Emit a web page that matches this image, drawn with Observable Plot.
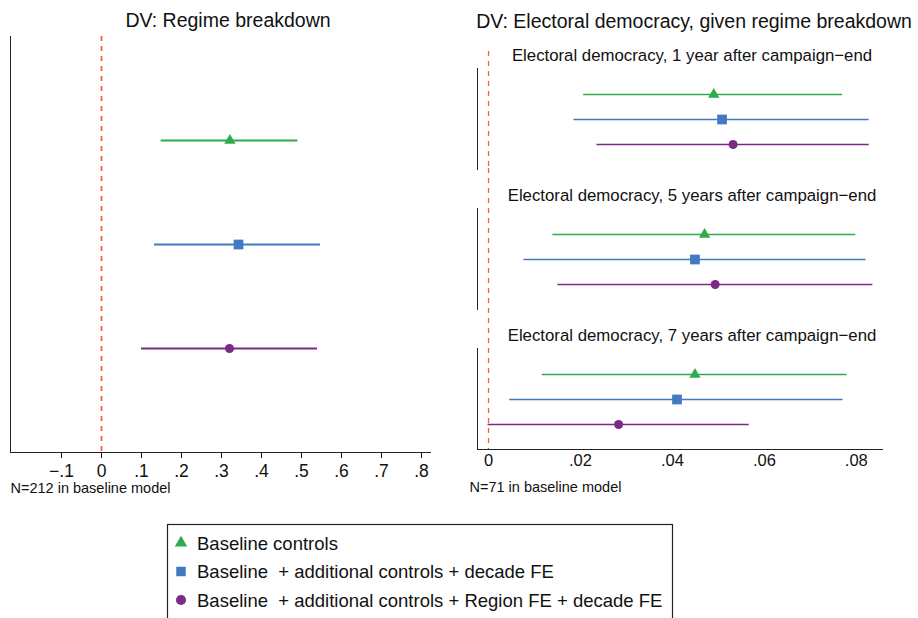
<!DOCTYPE html>
<html><head><meta charset="utf-8">
<script src="https://cdn.jsdelivr.net/npm/d3@7"></script>
<script src="https://cdn.jsdelivr.net/npm/@observablehq/plot@0.6"></script>
<style>
html,body{margin:0;padding:0;background:#fff;}
#root{position:relative;width:918px;height:618px;overflow:hidden;font-family:"Liberation Sans",Arial,Helvetica,sans-serif;}
#left{position:absolute;left:0;top:0;}
#right{position:absolute;left:460px;top:0;}
#legend{position:absolute;left:167px;top:524px;}
svg{overflow:visible;}
</style></head><body>
<div id="root"><div id="left"></div><div id="right"></div><div id="legend"></div></div>
<script>
// ---- data ----
const models = [
  "Baseline controls",
  "Baseline  + additional controls + decade FE",
  "Baseline  + additional controls + Region FE + decade FE"
];
const panelTitles = ["DV: Regime breakdown", "DV: Electoral democracy, given regime breakdown"];
const notes = ["N=212 in baseline model", "N=71 in baseline model"];
const subTitles = [
  "Electoral democracy, 1 year after campaign\u2212end",
  "Electoral democracy, 5 years after campaign\u2212end",
  "Electoral democracy, 7 years after campaign\u2212end"
];

const breakdownEst = [0.321, 0.3425, 0.320];
const breakdownLo  = [0.149, 0.1325, 0.100];
const breakdownHi  = [0.491, 0.5475, 0.540];

const demo1yEst = [0.0490, 0.0508, 0.0532];
const demo1yLo  = [0.0207, 0.0186, 0.0236];
const demo1yHi  = [0.0770, 0.0828, 0.0828];

const demo5yEst = [0.0470, 0.0449, 0.0493];
const demo5yLo  = [0.0140, 0.0077, 0.0151];
const demo5yHi  = [0.0799, 0.0821, 0.0836];

const demo7yEst = [0.0449, 0.0410, 0.0283];
const demo7yLo  = [0.0117, 0.0046, -0.0001];
const demo7yHi  = [0.0780, 0.0771, 0.0567];

const leftTicks = [-0.1, 0, 0.1, 0.2, 0.3, 0.4, 0.5, 0.6, 0.7, 0.8];
const leftTickLabels = ["\u2212.1", "0", ".1", ".2", ".3", ".4", ".5", ".6", ".7", ".8"];
const rightTicks = [0, 0.02, 0.04, 0.06, 0.08];
const rightTickLabels = ["0", ".02", ".04", ".06", ".08"];

// ---- styles ----
const colors = ["#2eab4c", "#4479c1", "#7b2a86"];
const symbols = ["triangle", "square", "circle"];
const symbolR = [4.2, 5.5, 4.5];
const refColor = "#f2613f";
const font = "Liberation Sans, Arial, Helvetica, sans-serif";
const ink = "#111";

// ---- tables ----
const leftData = models.map((m, i) => ({model: m, est: breakdownEst[i], lo: breakdownLo[i], hi: breakdownHi[i]}));
const rightData = [];
[[demo1yEst, demo1yLo, demo1yHi], [demo5yEst, demo5yLo, demo5yHi], [demo7yEst, demo7yLo, demo7yHi]]
  .forEach(([e, l, h], k) => models.forEach((m, i) =>
    rightData.push({sub: subTitles[k], model: m, est: e[i], lo: l[i], hi: h[i]})));

function modelMarks(data, extra, sw) {
  return [
    Plot.ruleY(data, {y: "model", x1: "lo", x2: "hi", stroke: "model", strokeWidth: sw, ...extra}),
    ...models.map((m, i) => Plot.dot(data, {
      filter: d => d.model === m, x: "est", y: "model",
      symbol: symbols[i], fill: colors[i], stroke: "none", r: symbolR[i], ...extra
    }))
  ];
}

const left = Plot.plot({
  width: 440, height: 500,
  marginLeft: 10, marginRight: 10, marginTop: 36, marginBottom: 48,
  style: {fontFamily: font, fontSize: "16.5px", color: ink, background: "transparent", overflow: "visible"},
  x: {domain: [-0.2275, 0.8225], label: null},
  y: {type: "point", domain: models, padding: 1, axis: null},
  color: {domain: models, range: colors},
  marks: [
    Plot.frame({anchor: "left", stroke: "#222"}),
    Plot.frame({anchor: "bottom", stroke: "#222"}),
    Plot.axisX({ticks: leftTicks, tickFormat: d => leftTickLabels[leftTicks.indexOf(d)],
      tickSize: 6, tickPadding: 6, fontSize: 17.5, fill: ink, label: null}),
    Plot.ruleX([0], {stroke: refColor, strokeWidth: 1.8, strokeDasharray: "5,5"}),
    ...modelMarks(leftData, {}, 2),
    Plot.text([panelTitles[0]], {text: d => d, frameAnchor: "top", lineAnchor: "middle", dx: 7.5, dy: -16, fontSize: 19.5, fill: ink}),
    Plot.text([notes[0]], {text: d => d, frameAnchor: "bottom-left", lineAnchor: "middle", dy: 36, textAnchor: "start", fontSize: 14.5, fill: ink})
  ]
});
document.getElementById("left").appendChild(left);

const right = Plot.plot({
  width: 458, height: 500,
  marginLeft: 17, marginRight: 36, marginTop: 67, marginBottom: 50,
  style: {fontFamily: font, fontSize: "16px", color: ink, background: "transparent", overflow: "visible"},
  x: {domain: [-0.0024, 0.0857], label: null},
  y: {type: "point", domain: models, padding: 1, axis: null},
  fy: {domain: subTitles, paddingInner: 0.2786, paddingOuter: 0, axis: null},
  color: {domain: models, range: colors},
  marks: [
    Plot.frame({anchor: "left", stroke: "#222"}),
    Plot.frame({anchor: "bottom", facetAnchor: "bottom", stroke: "#222"}),
    Plot.axisX({ticks: rightTicks, tickFormat: d => rightTickLabels[rightTicks.indexOf(d)],
      tickSize: 0, tickPadding: 5, fontSize: 16.5, fill: ink, label: null}),
    Plot.ruleX(subTitles.slice(0, 1), {x: () => 0, fy: d => d, insetTop: -17, stroke: refColor, strokeWidth: 1.3, strokeDasharray: "5,5"}),
    Plot.ruleX(subTitles.slice(1), {x: () => 0, fy: d => d, insetTop: -40, stroke: refColor, strokeWidth: 1.3, strokeDasharray: "5,5"}),
    ...modelMarks(rightData, {fy: "sub"}, 1.7),
    Plot.text(subTitles, {fy: d => d, text: d => d, frameAnchor: "top", lineAnchor: "middle", dx: 12, dy: -13, fontSize: 16.8, fill: ink}),
    Plot.text([panelTitles[1]], {fy: () => subTitles[0], text: d => d, frameAnchor: "top", lineAnchor: "middle", dx: 14, dy: -47, fontSize: 19.5, fill: ink}),
    Plot.text([notes[1]], {fy: () => subTitles[2], text: d => d, frameAnchor: "bottom-left", lineAnchor: "middle", dx: -8, dy: 37.5, textAnchor: "start", fontSize: 14.5, fill: ink})
  ]
});
document.getElementById("right").appendChild(right);

// ---- legend ----
const legendSymbols = [d3.symbolTriangle, d3.symbolSquare, d3.symbolCircle];
const legendSizes = [67, 90, 80];
const lg = d3.select("#legend").append("svg").attr("width", 507).attr("height", 100)
  .style("font-family", font);
lg.append("rect").attr("x", 0.5).attr("y", 0.5).attr("width", 505).attr("height", 130)
  .attr("fill", "none").attr("stroke", "#222").attr("stroke-width", 1.2);
models.forEach((m, i) => {
  const cy = 19 + i * 28.5;
  lg.append("path").attr("d", d3.symbol(legendSymbols[i], legendSizes[i])())
    .attr("transform", `translate(14,${cy})`).attr("fill", colors[i]);
  lg.append("text").attr("x", 30).attr("y", cy).attr("dy", "0.36em")
    .attr("font-size", 18.5).attr("fill", ink).style("white-space", "pre").attr("xml:space", "preserve").text(m);
});
</script>
</body></html>
